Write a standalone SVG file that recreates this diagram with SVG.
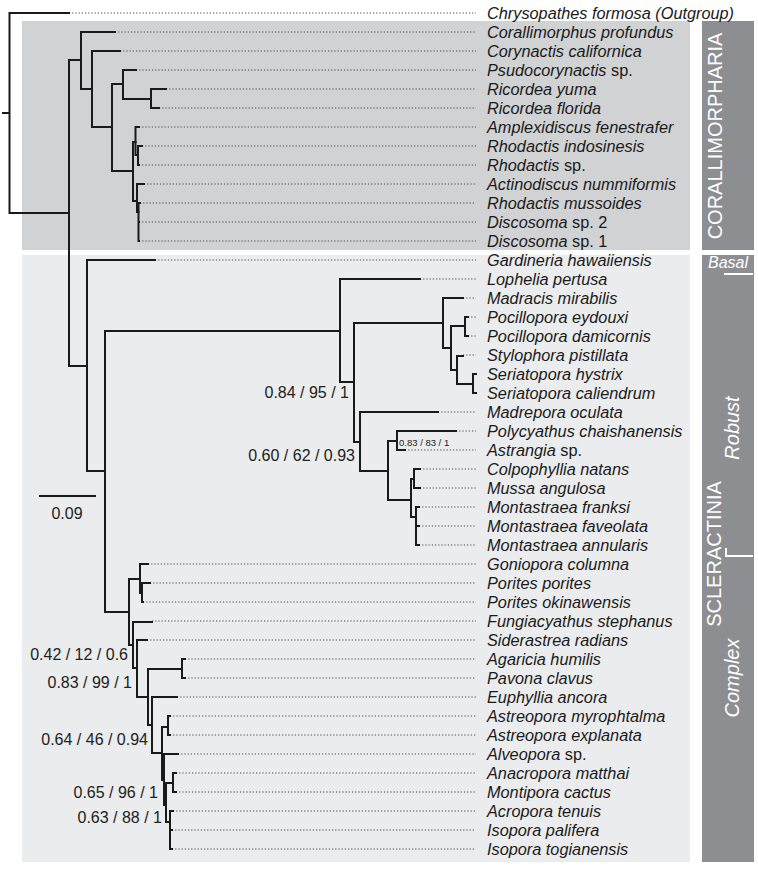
<svg xmlns="http://www.w3.org/2000/svg" width="758" height="886" viewBox="0 0 758 886">
<style>
.br{stroke:#1a1a1a;stroke-width:2;fill:none;stroke-linecap:square}
.dt{stroke:#444;stroke-width:1;stroke-dasharray:1.2 2;fill:none}
.tip{font-family:"Liberation Sans",Arial,sans-serif;font-size:16.3px;font-style:italic;fill:#1a1a1a}
.n{font-style:normal}
.sup{font-family:"Liberation Sans",Arial,sans-serif;font-size:16px;fill:#222}
.sm{font-size:9.5px}
.clade{font-family:"Liberation Sans",Arial,sans-serif;font-size:20px;fill:#fff}
.it{font-style:italic}
.wl{stroke:#fff;stroke-width:2;fill:none}
</style>
<g id="backgrounds">
<rect x="22" y="21" width="668" height="229" fill="#d1d2d4"/>
<rect x="22" y="255" width="668" height="607" fill="#ebeced"/>
<rect x="702" y="21" width="52" height="229" fill="#8d8e91"/>
<rect x="702" y="255" width="52" height="607" fill="#8d8e91"/>
</g>
<g id="clade-labels">
<text class="clade" transform="translate(722,136) rotate(-90)" text-anchor="middle">CORALLIMORPHARIA</text>
<text class="clade" transform="translate(721,554) rotate(-90)" text-anchor="middle">SCLERACTINIA</text>
<text class="clade it" transform="translate(739,428) rotate(-90)" text-anchor="middle">Robust</text>
<text class="clade it" transform="translate(739,678) rotate(-90)" text-anchor="middle">Complex</text>
<text class="clade it" x="708" y="268" style="font-size:16px">Basal</text>
<path class="wl" d="M724,274 H753"/>
<path class="wl" d="M726,548 V556 H753"/>
</g>
<g id="connectors">
<path class="dt" d="M69,13 H476 M115,32 H476 M120,51 H476 M136,70 H476 M166,89 H476 M159,108 H476 M139,127 H476 M142,146 H476 M139,165 H476 M144,184 H476 M140,203 H476 M139,222 H476 M139,241 H476"/>
<path class="dt" d="M155,260 H476 M420,279 H476 M463,298 H476 M468,317 H476 M468,336 H476 M463,355 H476 M476,374 H477 M476,393 H477 M438,412 H476 M456,431 H476 M405,450 H476 M420,469 H476 M420,488 H476 M419,507 H476 M419,526 H476 M419,545 H476"/>
<path class="dt" d="M148,564 H476 M150,583 H476 M143,602 H476 M152,621 H476 M147,640 H476 M185,659 H476 M185,678 H476 M177,697 H476 M170,716 H476 M170,735 H476 M178,754 H476 M176,773 H476 M176,792 H476 M173,811 H476 M172,830 H476 M172,849 H476"/>
<path class="br" d="M3,113 H9.5 M9.5,13 V213 M9.5,13 H69 M9.5,213 H69"/>
<path class="br" d="M69,60 V366 M69,60 H81 M69,366 H87"/>
<path class="br" d="M81,32 V89 M81,32 H115 M81,89 H92"/>
<path class="br" d="M92,51 V127 M92,51 H120 M92,127 H112"/>
<path class="br" d="M112,84 V171 M112,84 H123 M112,171 H133"/>
<path class="br" d="M123,70 V99 M123,70 H136 M123,99 H151"/>
<path class="br" d="M151,89 V108 M151,89 H166 M151,108 H159"/>
<path class="br" d="M133,142 V201 M133,142 H135.5 M133,201 H137"/>
<path class="br" d="M135.5,127 V155 M135.5,127 H139 M135.5,155 H138"/>
<path class="br" d="M138,146 V165 M138,146 H142 M138,165 H139"/>
<path class="br" d="M137,184 V212 M137,184 H144 M137,212 H138.5"/>
<path class="br" d="M138.5,203 V241 M138.5,203 H140 M138.5,222 H139 M138.5,241 H139"/>
<path class="br" d="M87,260 V471 M87,260 H155 M87,471 H105"/>
<path class="br" d="M105,331 V612 M105,331 H340 M105,612 H129"/>
<path class="br" d="M340,279 V382 M340,279 H420 M340,382 H354"/>
<path class="br" d="M354,323 V442 M354,323 H443 M354,442 H360"/>
<path class="br" d="M443,298 V348 M443,298 H463 M443,348 H451"/>
<path class="br" d="M451,326 V370 M451,326 H465 M451,370 H457"/>
<path class="br" d="M465,317 V336 M465,317 H468 M465,336 H468"/>
<path class="br" d="M457,356 V384 M457,356 H463 M457,384 H473"/>
<path class="br" d="M473,374 V393 M473,374 H476 M473,393 H476"/>
<path class="br" d="M360,412 V471 M360,412 H438 M360,471 H388"/>
<path class="br" d="M388,441 V500 M388,441 H397 M388,500 H411"/>
<path class="br" d="M397,431 V450 M397,431 H456 M397,450 H405"/>
<path class="br" d="M411,479 V517 M411,479 H414 M411,517 H416"/>
<path class="br" d="M414,469 V488 M414,469 H420 M414,488 H420"/>
<path class="br" d="M416,507 V545 M416,507 H419 M416,526 H419 M416,545 H419"/>
<path class="br" d="M129,579 V645 M129,579 H140 M129,645 H133"/>
<path class="br" d="M140,564 V593 M140,564 H148 M140,593 H142"/>
<path class="br" d="M142,583 V602 M142,583 H150 M142,602 H143"/>
<path class="br" d="M133,622 V668 M133,622 H152 M133,668 H137"/>
<path class="br" d="M137,640 V697 M137,640 H147 M137,697 H148"/>
<path class="br" d="M148,669 V725 M148,669 H182 M148,725 H152"/>
<path class="br" d="M182,659 V678 M182,659 H185 M182,678 H185"/>
<path class="br" d="M152,697 V753 M152,697 H177 M152,753 H162"/>
<path class="br" d="M162,727 V780 M162,727 H168 M162,780 H164"/>
<path class="br" d="M168,716 V735 M168,716 H170 M168,735 H170"/>
<path class="br" d="M164,754 V805 M164,754 H178 M164,805 H166"/>
<path class="br" d="M166,783 V822 M166,783 H173 M166,822 H170"/>
<path class="br" d="M173,773 V792 M173,773 H176 M173,792 H176"/>
<path class="br" d="M170,811 V849 M170,811 H173 M170,830 H172 M170,849 H172"/>
<path class="br" d="M40,496 H95"/>
</g>
<g id="support-values">
<text class="sup" x="67" y="519" text-anchor="middle">0.09</text>
<text class="sup" x="349" y="398" text-anchor="end">0.84 / 95 / 1</text>
<text class="sup" x="355" y="461" text-anchor="end">0.60 / 62 / 0.93</text>
<text class="sup sm" x="399" y="446">0.83 / 83 / 1</text>
<text class="sup" x="128" y="660" text-anchor="end">0.42 / 12 / 0.6</text>
<text class="sup" x="132" y="688" text-anchor="end">0.83 / 99 / 1</text>
<text class="sup" x="148" y="745" text-anchor="end">0.64 / 46 / 0.94</text>
<text class="sup" x="158" y="798" text-anchor="end">0.65 / 96 / 1</text>
<text class="sup" x="162" y="823" text-anchor="end">0.63 / 88 / 1</text>
</g>
<g id="tips">
<g id="t01"><text class="tip" x="487" y="19">Chrysopathes formosa (Outgroup)</text></g>
<g id="t02"><text class="tip" x="487" y="38">Corallimorphus profundus</text></g>
<g id="t03"><text class="tip" x="487" y="57">Corynactis californica</text></g>
<g id="t04"><text class="tip" x="487" y="76">Psudocorynactis<tspan class="n"> sp.</tspan></text></g>
<g id="t05"><text class="tip" x="487" y="95">Ricordea yuma</text></g>
<g id="t06"><text class="tip" x="487" y="114">Ricordea florida</text></g>
<g id="t07"><text class="tip" x="487" y="133">Amplexidiscus fenestrafer</text></g>
<g id="t08"><text class="tip" x="487" y="152">Rhodactis indosinesis</text></g>
<g id="t09"><text class="tip" x="487" y="171">Rhodactis<tspan class="n"> sp.</tspan></text></g>
<g id="t10"><text class="tip" x="487" y="190">Actinodiscus nummiformis</text></g>
<g id="t11"><text class="tip" x="487" y="209">Rhodactis mussoides</text></g>
<g id="t12"><text class="tip" x="487" y="228">Discosoma<tspan class="n"> sp. 2</tspan></text></g>
<g id="t13"><text class="tip" x="487" y="247">Discosoma<tspan class="n"> sp. 1</tspan></text></g>
<g id="t14"><text class="tip" x="487" y="266">Gardineria hawaiiensis</text></g>
<g id="t15"><text class="tip" x="487" y="285">Lophelia pertusa</text></g>
<g id="t16"><text class="tip" x="487" y="304">Madracis mirabilis</text></g>
<g id="t17"><text class="tip" x="487" y="323">Pocillopora eydouxi</text></g>
<g id="t18"><text class="tip" x="487" y="342">Pocillopora damicornis</text></g>
<g id="t19"><text class="tip" x="487" y="361">Stylophora pistillata</text></g>
<g id="t20"><text class="tip" x="487" y="380">Seriatopora hystrix</text></g>
<g id="t21"><text class="tip" x="487" y="399">Seriatopora caliendrum</text></g>
<g id="t22"><text class="tip" x="487" y="418">Madrepora oculata</text></g>
<g id="t23"><text class="tip" x="487" y="437">Polycyathus chaishanensis</text></g>
<g id="t24"><text class="tip" x="487" y="456">Astrangia<tspan class="n"> sp.</tspan></text></g>
<g id="t25"><text class="tip" x="487" y="475">Colpophyllia natans</text></g>
<g id="t26"><text class="tip" x="487" y="494">Mussa angulosa</text></g>
<g id="t27"><text class="tip" x="487" y="513">Montastraea franksi</text></g>
<g id="t28"><text class="tip" x="487" y="532">Montastraea faveolata</text></g>
<g id="t29"><text class="tip" x="487" y="551">Montastraea annularis</text></g>
<g id="t30"><text class="tip" x="487" y="570">Goniopora columna</text></g>
<g id="t31"><text class="tip" x="487" y="589">Porites porites</text></g>
<g id="t32"><text class="tip" x="487" y="608">Porites okinawensis</text></g>
<g id="t33"><text class="tip" x="487" y="627">Fungiacyathus stephanus</text></g>
<g id="t34"><text class="tip" x="487" y="646">Siderastrea radians</text></g>
<g id="t35"><text class="tip" x="487" y="665">Agaricia humilis</text></g>
<g id="t36"><text class="tip" x="487" y="684">Pavona clavus</text></g>
<g id="t37"><text class="tip" x="487" y="703">Euphyllia ancora</text></g>
<g id="t38"><text class="tip" x="487" y="722">Astreopora myrophtalma</text></g>
<g id="t39"><text class="tip" x="487" y="741">Astreopora explanata</text></g>
<g id="t40"><text class="tip" x="487" y="760">Alveopora<tspan class="n"> sp.</tspan></text></g>
<g id="t41"><text class="tip" x="487" y="779">Anacropora matthai</text></g>
<g id="t42"><text class="tip" x="487" y="798">Montipora cactus</text></g>
<g id="t43"><text class="tip" x="487" y="817">Acropora tenuis</text></g>
<g id="t44"><text class="tip" x="487" y="836">Isopora palifera</text></g>
<g id="t45"><text class="tip" x="487" y="855">Isopora togianensis</text></g>
</g>
</svg>
